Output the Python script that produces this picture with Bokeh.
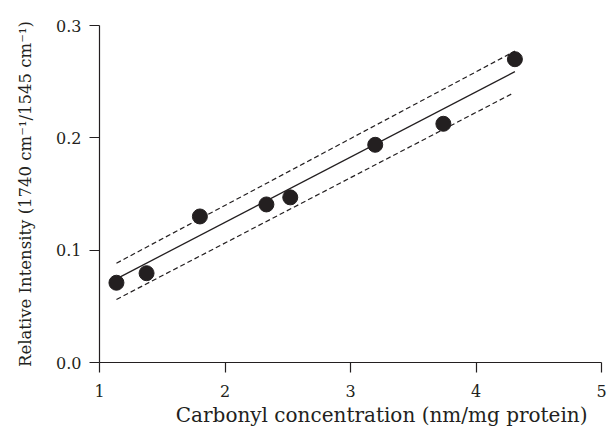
from bokeh.plotting import figure
from bokeh.models import Range1d, FixedTicker, NumeralTickFormatter, Title
from bokeh.embed import file_html
from bokeh.resources import INLINE

# Data
carbonyl = [1.135, 1.375, 1.80, 2.33, 2.52, 3.197, 3.74, 4.31]
intensity = [0.071, 0.0795, 0.130, 0.1407, 0.147, 0.1938, 0.2125, 0.270]

fit_x = [1.135, 4.31]
fit_y = [0.0745, 0.2589]
upper_x = [1.135, 4.31]
upper_y = [0.0884, 0.2772]
lower_x = [1.135, 4.296]
lower_y = [0.0561, 0.2398]

x_ticks = [1, 2, 3, 4, 5]
y_ticks = [0.0, 0.1, 0.2, 0.3]

x_label = "Carbonyl concentration (nm/mg protein)"
y_label = "Relative Intensity (1740 cm\u207b\u00b9/1545 cm\u207b\u00b9)"

INK = "#231f20"
FONT = "DejaVu Serif"

p = figure(width=609, height=427, output_backend="svg", toolbar_location=None,
           x_range=Range1d(1, 5), y_range=Range1d(0, 0.3),
           min_border_left=99, min_border_right=8, min_border_top=25, min_border_bottom=65)
p.outline_line_color = None
p.xgrid.visible = False
p.ygrid.visible = False
p.background_fill_color = "white"

p.line(fit_x, fit_y, line_color=INK, line_width=1.3)
p.line(upper_x, upper_y, line_color=INK, line_width=1.2, line_dash="5 3")
p.line(lower_x, lower_y, line_color=INK, line_width=1.2, line_dash="5 3")
p.scatter(carbonyl, intensity, size=15, fill_color=INK, line_color=INK)

p.xaxis.ticker = FixedTicker(ticks=x_ticks)
p.yaxis.ticker = FixedTicker(ticks=y_ticks)
p.yaxis.formatter = NumeralTickFormatter(format="0.0")
p.yaxis.axis_label = y_label

for ax in (p.xaxis[0], p.yaxis[0]):
    ax.axis_line_color = INK
    ax.axis_line_width = 1.2
    ax.major_tick_line_color = INK
    ax.major_tick_line_width = 1.2
    ax.major_tick_in = 0
    ax.major_tick_out = 10
    ax.minor_tick_line_color = None
    ax.major_label_text_font = FONT
    ax.major_label_text_font_size = "16px"
    ax.major_label_text_color = INK
    ax.axis_label_text_font = FONT
    ax.axis_label_text_font_style = "normal"
    ax.axis_label_text_color = INK
p.xaxis[0].major_label_standoff = 12
p.yaxis[0].major_label_standoff = 8
p.yaxis[0].axis_label_text_font_size = "16.5px"
p.yaxis[0].axis_label_standoff = 18

xt = Title(text=x_label, align="right", offset=14, text_font=FONT,
           text_font_size="20px", text_font_style="normal", text_color=INK,
           standoff=2)
p.add_layout(xt, "below")

open("out.html", "w").write(file_html(p, INLINE))
